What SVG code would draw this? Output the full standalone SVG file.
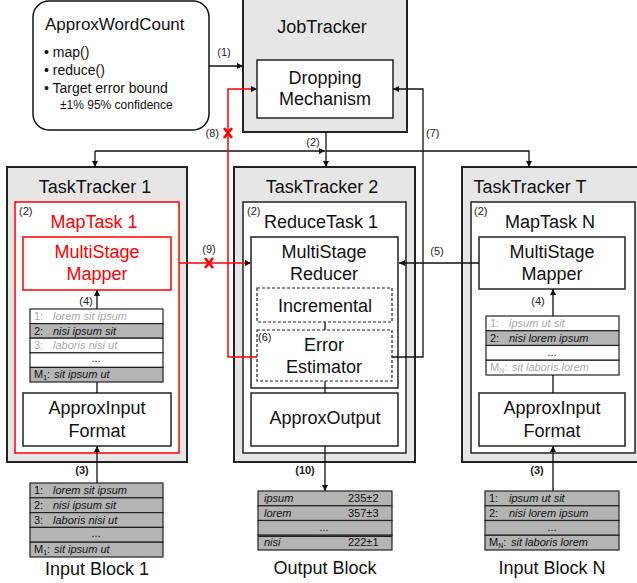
<svg xmlns="http://www.w3.org/2000/svg" width="637" height="583" viewBox="0 0 637 583">
<style>
text{font-family:"Liberation Sans",Arial,sans-serif;fill:#111}
.big{font-size:18px;text-anchor:middle}
.red{fill:#f00}
.lbl{font-size:11px;fill:#222}
.lblc{font-size:11px;fill:#222;text-anchor:middle}
.bold{font-weight:bold}
.row{font-size:11px;font-style:italic}
.lt{fill:#aaa}
.trk{fill:#e6e6e6;stroke:#222;stroke-width:2}
.box{fill:#fff;stroke:#222;stroke-width:1.5}
.rbox{fill:none;stroke:#f00;stroke-width:1.5}
.dash{fill:#fff;stroke:#222;stroke-width:1.2;stroke-dasharray:3,2}
.g{fill:#b4b4b4;stroke:#222;stroke-width:1.2}
.w{fill:#fff;stroke:#222;stroke-width:1.2}
.ln{fill:none;stroke:#111;stroke-width:1.3}
.rl{fill:none;stroke:#f00;stroke-width:1.5}
.xm{stroke:#f00;stroke-width:2.6;fill:none}
</style>
<defs>
<marker id="ah" viewBox="0 0 8 8" refX="8" refY="4" markerWidth="6" markerHeight="6" markerUnits="userSpaceOnUse" orient="auto"><path d="M0,0L8,4L0,8z" fill="#111"/></marker>
<marker id="ahr" viewBox="0 0 8 8" refX="8" refY="4" markerWidth="6" markerHeight="6" markerUnits="userSpaceOnUse" orient="auto"><path d="M0,0L8,4L0,8z" fill="#111"/></marker>
</defs>

<g id="approxwordcount">
<rect x="33" y="1" width="176" height="129" rx="16" fill="#fff" stroke="#111" stroke-width="1.5"/>
<text x="45" y="30" font-size="17">ApproxWordCount</text>
<text x="44" y="57" font-size="14">• map()</text>
<text x="44" y="75" font-size="14">• reduce()</text>
<text x="44" y="93" font-size="14">• Target error bound</text>
<text x="60" y="109" font-size="12">±1% 95% confidence</text>
</g>

<g id="jobtracker">
<rect class="trk" x="243" y="-2" width="164" height="134"/>
<text class="big" x="322" y="33">JobTracker</text>
<rect class="box" x="257" y="60" width="136" height="58"/>
<text class="big" x="325" y="84">Dropping</text>
<text class="big" x="325" y="105">Mechanism</text>
</g>

<g id="tasktracker1">
<rect class="trk" x="7" y="167" width="180" height="295"/>
<text class="big" x="95" y="193">TaskTracker 1</text>
<rect class="rbox" x="15" y="202" width="164" height="251" fill="#fff" style="fill:#fff"/>
<text class="lbl" x="19" y="215">(2)</text>
<text class="big red" x="94" y="228">MapTask 1</text>
<rect class="rbox" x="23" y="237" width="148" height="53"/>
<text class="big red" x="97" y="258">MultiStage</text>
<text class="big red" x="97" y="280">Mapper</text>
<g id="list1">
<rect class="w" x="30" y="309" width="133" height="14.6"/>
<rect class="g" x="30" y="323.6" width="133" height="14.6"/>
<rect class="w" x="30" y="338.2" width="133" height="14.6"/>
<rect class="w" x="30" y="352.8" width="133" height="14.6"/>
<rect class="g" x="30" y="367.4" width="133" height="14.6"/>
<text class="row lt" x="34" y="320" font-style="normal" style="font-style:normal">1:</text>
<text class="row lt" x="53" y="320">lorem sit ipsum</text>
<text class="row" x="34" y="335" style="font-style:normal">2:</text>
<text class="row" x="53" y="335">nisi ipsum sit</text>
<text class="row lt" x="34" y="349" style="font-style:normal">3:</text>
<text class="row lt" x="53" y="349">laboris nisi ut</text>
<text class="row" x="96" y="362" text-anchor="middle" style="font-style:normal">...</text>
<text class="row" x="34" y="378" style="font-style:normal">M<tspan font-size="7" dy="2">1</tspan><tspan dy="-2">:</tspan></text>
<text class="row" x="54" y="378">sit ipsum ut</text>
</g>
<rect class="box" x="23" y="393" width="148" height="53"/>
<text class="big" x="97" y="414">ApproxInput</text>
<text class="big" x="97" y="437">Format</text>
</g>

<g id="tasktracker2">
<rect class="trk" x="234" y="167" width="181" height="295"/>
<text class="big" x="322" y="193">TaskTracker 2</text>
<rect class="box" x="243" y="202" width="163" height="251"/>
<text class="lbl" x="247" y="215" font-size="10">(2)</text>
<text class="big" x="321" y="228">ReduceTask 1</text>
<rect class="box" x="251" y="237" width="147" height="151"/>
<text class="big" x="324" y="258">MultiStage</text>
<text class="big" x="324" y="280">Reducer</text>
<rect class="dash" x="257" y="288" width="135" height="34"/>
<text class="big" x="325" y="312">Incremental</text>
<rect class="dash" x="257" y="330" width="135" height="51"/>
<text class="lbl" x="258" y="341" font-size="10">(6)</text>
<text class="big" x="324" y="351">Error</text>
<text class="big" x="324" y="373">Estimator</text>
<rect class="box" x="251" y="393" width="147" height="53"/>
<text class="big" x="325" y="424">ApproxOutput</text>
</g>

<g id="tasktrackerT">
<rect class="trk" x="462" y="167" width="185" height="295"/>
<text class="big" x="530" y="193">TaskTracker T</text>
<rect class="box" x="471" y="202" width="164" height="251"/>
<text class="lbl" x="474" y="215">(2)</text>
<text class="big" x="550" y="228">MapTask N</text>
<rect class="box" x="479" y="237" width="146" height="52"/>
<text class="big" x="552" y="258">MultiStage</text>
<text class="big" x="552" y="280">Mapper</text>
<g id="listN">
<rect class="w" x="486" y="316" width="133" height="14.75"/>
<rect class="g" x="486" y="330.75" width="133" height="14.75"/>
<rect class="w" x="486" y="345.5" width="133" height="14.75"/>
<rect class="w" x="486" y="360.25" width="133" height="14.75"/>
<text class="row lt" x="490" y="327" style="font-style:normal">1:</text>
<text class="row lt" x="509" y="327">ipsum ut sit</text>
<text class="row" x="490" y="342" style="font-style:normal">2:</text>
<text class="row" x="509" y="342">nisi lorem ipsum</text>
<text class="row" x="552" y="356" text-anchor="middle" style="font-style:normal">...</text>
<text class="row lt" x="490" y="371" style="font-style:normal">M<tspan font-size="7" dy="2">N</tspan><tspan dy="-2">:</tspan></text>
<text class="row lt" x="512" y="371">sit laboris lorem</text>
</g>
<rect class="box" x="479" y="393" width="146" height="53"/>
<text class="big" x="552" y="414">ApproxInput</text>
<text class="big" x="552" y="437">Format</text>
</g>

<g id="inputblock1">
<rect class="g" x="30" y="483" width="133" height="14.8"/>
<rect class="g" x="30" y="497.8" width="133" height="14.8"/>
<rect class="g" x="30" y="512.6" width="133" height="14.8"/>
<rect class="g" x="30" y="527.4" width="133" height="14.8"/>
<rect class="g" x="30" y="542.2" width="133" height="14.8"/>
<text class="row" x="34" y="494" style="font-style:normal">1:</text>
<text class="row" x="53" y="494">lorem sit ipsum</text>
<text class="row" x="34" y="509" style="font-style:normal">2:</text>
<text class="row" x="53" y="509">nisi ipsum sit</text>
<text class="row" x="34" y="524" style="font-style:normal">3:</text>
<text class="row" x="53" y="524">laboris nisi ut</text>
<text class="row" x="96" y="537" text-anchor="middle" style="font-style:normal">...</text>
<text class="row" x="34" y="553" style="font-style:normal">M<tspan font-size="7" dy="2">1</tspan><tspan dy="-2">:</tspan></text>
<text class="row" x="54" y="553">sit ipsum ut</text>
<text class="big" x="97" y="575">Input Block 1</text>
</g>

<g id="outputblock">
<rect class="g" x="258" y="491" width="134" height="14.75"/>
<rect class="g" x="258" y="505.75" width="134" height="14.75"/>
<rect class="g" x="258" y="520.5" width="134" height="14.75"/>
<rect class="g" x="258" y="535.25" width="134" height="14.75"/>
<line x1="258" y1="536.5" x2="392" y2="536.5" stroke="#222" stroke-width="1"/>
<text class="row" x="264" y="502">ipsum</text>
<text class="row" x="348" y="502" style="font-style:normal">235±2</text>
<text class="row" x="264" y="517">lorem</text>
<text class="row" x="348" y="517" style="font-style:normal">357±3</text>
<text class="row" x="324" y="531" text-anchor="middle" style="font-style:normal">...</text>
<text class="row" x="264" y="546">nisi</text>
<text class="row" x="348" y="546" style="font-style:normal">222±1</text>
<text class="big" x="325" y="574">Output Block</text>
</g>

<g id="inputblockN">
<rect class="g" x="485" y="491" width="134" height="14.75"/>
<rect class="g" x="485" y="505.75" width="134" height="14.75"/>
<rect class="g" x="485" y="520.5" width="134" height="14.75"/>
<rect class="g" x="485" y="535.25" width="134" height="14.75"/>
<text class="row" x="489" y="502" style="font-style:normal">1:</text>
<text class="row" x="509" y="502">ipsum ut sit</text>
<text class="row" x="489" y="517" style="font-style:normal">2:</text>
<text class="row" x="509" y="517">nisi lorem ipsum</text>
<text class="row" x="552" y="531" text-anchor="middle" style="font-style:normal">...</text>
<text class="row" x="489" y="546" style="font-style:normal">M<tspan font-size="7" dy="2">N</tspan><tspan dy="-2">:</tspan></text>
<text class="row" x="511" y="546">sit laboris lorem</text>
<text class="big" x="552" y="574">Input Block N</text>
</g>

<g id="connectors">
<path class="ln" d="M209,66H243" marker-end="url(#ah)"/>
<text class="lblc" x="224" y="56">(1)</text>
<path class="ln" d="M326,132V167" marker-end="url(#ah)"/>
<path class="ln" d="M95,151H325" marker-end="url(#ah)"/>
<path class="ln" d="M95,151V167" marker-end="url(#ah)"/>
<path class="ln" d="M326,151H529V167" marker-end="url(#ah)"/>
<text class="lblc" x="313" y="146">(2)</text>
<path class="rl" d="M257,357H228V89H257" marker-end="url(#ahr)"/>
<path class="xm" d="M224,128L232,138M232,128L224,138"/>
<text class="lbl" x="219" y="137" text-anchor="end">(8)</text>
<path class="ln" d="M392,357H423V89H393" marker-end="url(#ah)"/>
<text class="lbl" x="426" y="137">(7)</text>
<path class="rl" d="M179,263H251" marker-end="url(#ahr)"/>
<path class="xm" d="M205,258L213,268M213,258L205,268"/>
<text class="lblc" x="209" y="253">(9)</text>
<path class="ln" d="M479,263H399" marker-end="url(#ah)"/>
<text class="lblc" x="437" y="255">(5)</text>
<path class="ln" d="M97,309V290" marker-end="url(#ah)"/>
<text class="lblc" x="86" y="305">(4)</text>
<path class="ln" d="M553,316V289" marker-end="url(#ah)"/>
<text class="lblc" x="538" y="305">(4)</text>
<path class="ln" d="M97,382V393"/>
<path class="ln" d="M553,375V393"/>
<path class="ln" d="M325,322V330"/>
<path class="ln" d="M325,381V393"/>
<path class="ln" d="M97,483V446" marker-end="url(#ah)"/>
<text class="lblc bold" x="82" y="474">(3)</text>
<path class="ln" d="M553,491V446" marker-end="url(#ah)"/>
<text class="lblc bold" x="537" y="474">(3)</text>
<path class="ln" d="M325,446V491" marker-end="url(#ah)"/>
<text class="lblc bold" x="305" y="474">(10)</text>
</g>
</svg>
